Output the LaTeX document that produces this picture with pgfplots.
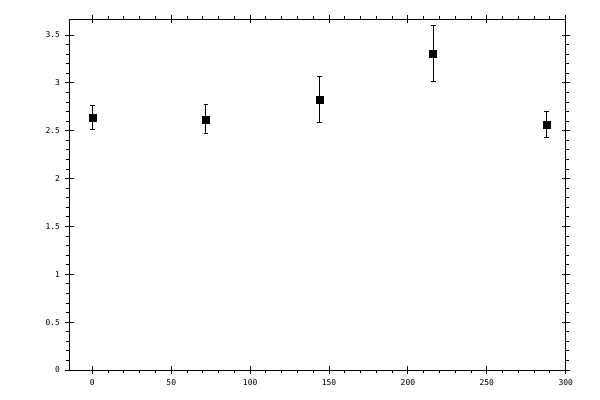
\documentclass[border=0pt]{standalone}
\usepackage{fontspec}
\usepackage{pgfplots}
\pgfplotsset{compat=1.18}
\newfontfamily\pixfont{DejaVu Sans Mono}

\pgfplotsset{
    frame/.style = {
        scale only axis,
        width = 496.2bp, height = 350.7bp,
        xmin = -14.5, xmax = 300,
        ymin = 0, ymax = 3.665,
        xtick = {0,50,...,300},
        ytick = {0,0.5,...,3.5},
        axis line style = {line width = 1bp},
        tick style = {line width = 1bp, black},
    }
}

\begin{document}
\begin{tikzpicture}
    \path[use as bounding box] (-69.5bp,-30bp) rectangle (530.5bp,370bp);
    \begin{axis}[
        frame,
        tick align = outside,
        major tick length = 4bp,
        minor tick length = 3.3bp,
        minor x tick num = 4,
        minor y tick num = 4,
        /pgf/number format/assume math mode = true,
        tick label style = {font = \pixfont\fontsize{8}{9}\selectfont},
        xticklabel style = {yshift = -2bp},
        yticklabel style = {xshift = -2bp},
    ]
        \addplot [
            only marks, black,
            mark = square*, mark size = 3.5bp,
            error bars/.cd,
            y dir = both, y explicit,
            error bar style = {line width = 1bp},
            error mark options = {rotate = 90, mark size = 2.4bp, line width = 1bp},
        ] table [y error = e] {
            x    y      e
            0    2.640  0.125
            72   2.620  0.150
            144  2.828  0.240
            216  3.310  0.290
            288  2.567  0.135
        };
    \end{axis}
    \begin{axis}[
        frame,
        tick align = inside,
        major tick length = 4bp,
        xticklabels = {}, yticklabels = {},
    ]
    \end{axis}
\end{tikzpicture}
\end{document}
